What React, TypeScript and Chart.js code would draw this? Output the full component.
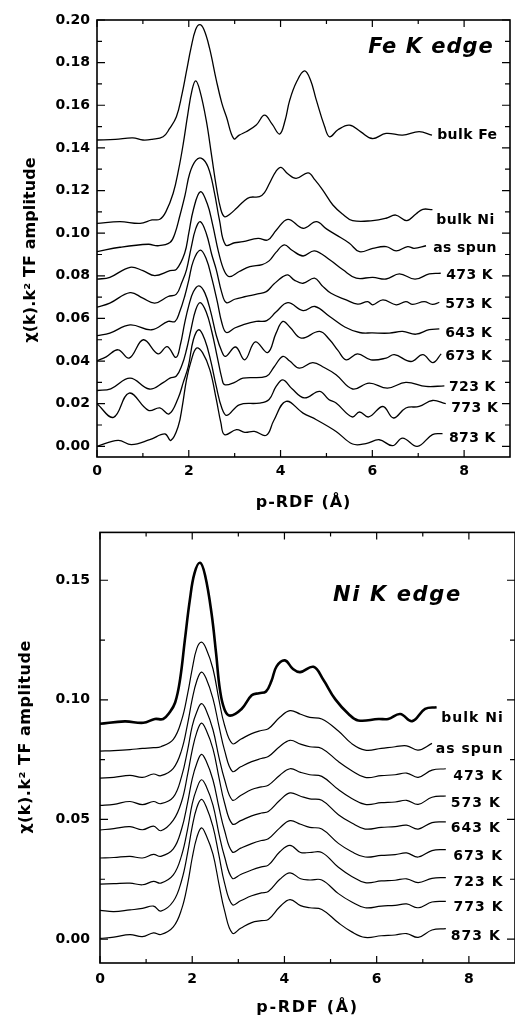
import React, { useEffect, useRef } from 'react';
import { Chart, registerables } from 'chart.js';

Chart.register(...registerables);

const FONT = "'DejaVu Sans', 'Liberation Sans', Arial, sans-serif";

// ---------------- Fe K edge (top panel) : [r (Å), amplitude] ----------------
const feBulkFe = [
  [0, 0.1437], [0.4, 0.144], [0.78, 0.1447], [1.0, 0.1437], [1.2, 0.144], [1.44, 0.1452], [1.58, 0.149],
  [1.73, 0.1546], [1.85, 0.165], [1.95, 0.176], [2.05, 0.187], [2.15, 0.1955], [2.24, 0.1978], [2.33, 0.1955],
  [2.45, 0.187], [2.6, 0.1718], [2.72, 0.161], [2.82, 0.1546], [2.98, 0.1443], [3.1, 0.146], [3.25, 0.1476],
  [3.47, 0.1507], [3.65, 0.1554], [3.82, 0.151], [3.98, 0.1465], [4.1, 0.153], [4.2, 0.1624], [4.35, 0.171],
  [4.52, 0.1761], [4.65, 0.172], [4.78, 0.1624], [4.96, 0.15], [5.07, 0.1452], [5.25, 0.1485], [5.5, 0.1507],
  [5.75, 0.1475], [6.0, 0.1444], [6.3, 0.1468], [6.66, 0.146], [7.02, 0.1476], [7.3, 0.146],
];
const feBulkNi = [
  [0, 0.1046], [0.5, 0.1054], [0.94, 0.1046], [1.2, 0.1062], [1.37, 0.1065], [1.5, 0.11], [1.66, 0.1187],
  [1.78, 0.13], [1.88, 0.142], [1.98, 0.156], [2.07, 0.167], [2.15, 0.1714], [2.24, 0.167], [2.38, 0.153],
  [2.5, 0.136], [2.6, 0.1218], [2.7, 0.111], [2.78, 0.1077], [2.9, 0.109], [3.04, 0.1117], [3.2, 0.115],
  [3.33, 0.1168], [3.54, 0.1171], [3.65, 0.119], [3.76, 0.1234], [3.9, 0.129], [4.01, 0.1309], [4.15, 0.128],
  [4.34, 0.1257], [4.6, 0.1283], [4.75, 0.125], [4.92, 0.1202], [5.14, 0.1132], [5.35, 0.109], [5.57, 0.1059],
  [6.01, 0.1059], [6.3, 0.107], [6.51, 0.1085], [6.75, 0.1059], [6.95, 0.109], [7.1, 0.1112], [7.31, 0.111],
];
const feAsSpun = [
  [0, 0.0913], [0.5, 0.0934], [1.12, 0.0948], [1.33, 0.0941], [1.59, 0.0956], [1.7, 0.1], [1.8, 0.1077],
  [1.92, 0.118], [2.02, 0.128], [2.15, 0.134], [2.28, 0.1351], [2.42, 0.131], [2.55, 0.12], [2.67, 0.106],
  [2.8, 0.0945], [3.0, 0.0955], [3.18, 0.096], [3.51, 0.0976], [3.72, 0.0968], [3.91, 0.1015], [4.16, 0.1065],
  [4.49, 0.1023], [4.78, 0.1054], [5.0, 0.102], [5.21, 0.0992], [5.5, 0.0953], [5.72, 0.0913], [6.01, 0.0929],
  [6.3, 0.0937], [6.52, 0.0917], [6.77, 0.0937], [6.91, 0.0929], [7.17, 0.0941],
];
const fe473 = [
  [0, 0.0784], [0.28, 0.0793], [0.72, 0.084], [1.0, 0.0824], [1.26, 0.0801], [1.59, 0.0824], [1.73, 0.083],
  [1.91, 0.0906], [2.0, 0.1], [2.1, 0.111], [2.25, 0.1194], [2.4, 0.114], [2.52, 0.104], [2.65, 0.091],
  [2.78, 0.082], [2.89, 0.0796], [3.1, 0.082], [3.33, 0.0843], [3.6, 0.0853], [3.75, 0.087], [3.9, 0.091],
  [4.08, 0.0945], [4.25, 0.092], [4.49, 0.0893], [4.74, 0.0917], [5.07, 0.0875], [5.36, 0.0828], [5.65, 0.0789],
  [6.01, 0.0793], [6.3, 0.0785], [6.59, 0.0809], [6.93, 0.0784], [7.24, 0.0809], [7.49, 0.0812],
];
const fe573 = [
  [0, 0.0653], [0.28, 0.0672], [0.72, 0.0721], [1.0, 0.0695], [1.26, 0.0672], [1.55, 0.0703], [1.73, 0.0714],
  [1.85, 0.077], [1.95, 0.0828], [2.05, 0.093], [2.15, 0.102], [2.25, 0.1054], [2.38, 0.1], [2.5, 0.09],
  [2.6, 0.0828], [2.72, 0.072], [2.82, 0.0674], [3.0, 0.069], [3.25, 0.0703], [3.5, 0.0715], [3.69, 0.0726],
  [3.85, 0.076], [4.05, 0.0796], [4.16, 0.0804], [4.3, 0.078], [4.49, 0.0765], [4.74, 0.0789], [4.9, 0.0755],
  [5.1, 0.0718], [5.43, 0.0687], [5.68, 0.0667], [5.9, 0.0679], [6.01, 0.0664], [6.23, 0.0687], [6.52, 0.0664],
  [6.73, 0.0679], [6.88, 0.0666], [7.13, 0.0679], [7.31, 0.0666], [7.46, 0.0675],
];
const fe643 = [
  [0, 0.0519], [0.28, 0.0531], [0.72, 0.057], [1.19, 0.0547], [1.55, 0.0586], [1.7, 0.0586], [1.8, 0.063],
  [1.91, 0.0703], [2.0, 0.078], [2.1, 0.087], [2.25, 0.092], [2.38, 0.088], [2.5, 0.079], [2.62, 0.068],
  [2.72, 0.058], [2.82, 0.0534], [3.0, 0.0555], [3.18, 0.057], [3.47, 0.0586], [3.7, 0.059], [3.9, 0.063],
  [4.16, 0.0674], [4.49, 0.0637], [4.75, 0.0656], [5.07, 0.0609], [5.4, 0.056], [5.72, 0.0534], [6.0, 0.0532],
  [6.37, 0.0531], [6.66, 0.0539], [6.95, 0.0526], [7.24, 0.0547], [7.46, 0.0551],
];
const fe673 = [
  [0, 0.0401], [0.2, 0.042], [0.46, 0.0453], [0.7, 0.0414], [1.01, 0.05], [1.33, 0.0434], [1.53, 0.0468],
  [1.72, 0.0417], [1.82, 0.048], [1.91, 0.0578], [2.0, 0.066], [2.1, 0.0725], [2.22, 0.0753], [2.35, 0.072],
  [2.48, 0.063], [2.6, 0.052], [2.72, 0.0445], [2.8, 0.0422], [3.02, 0.0466], [3.22, 0.0406], [3.45, 0.049],
  [3.72, 0.044], [3.9, 0.053], [4.05, 0.0586], [4.2, 0.056], [4.45, 0.0508], [4.85, 0.0539], [5.07, 0.05],
  [5.25, 0.045], [5.43, 0.0406], [5.68, 0.0434], [5.97, 0.0406], [6.3, 0.0414], [6.48, 0.043], [6.84, 0.0398],
  [7.1, 0.043], [7.32, 0.0393], [7.5, 0.0434],
];
const fe723 = [
  [0, 0.0262], [0.3, 0.027], [0.72, 0.032], [1.14, 0.0269], [1.45, 0.03], [1.59, 0.032], [1.73, 0.033],
  [1.85, 0.038], [1.95, 0.0453], [2.05, 0.055], [2.15, 0.064], [2.25, 0.0674], [2.38, 0.063], [2.5, 0.054],
  [2.62, 0.042], [2.72, 0.032], [2.78, 0.0289], [3.0, 0.03], [3.18, 0.032], [3.69, 0.0328], [3.85, 0.037],
  [4.05, 0.0422], [4.2, 0.04], [4.41, 0.0367], [4.7, 0.0393], [4.95, 0.037], [5.21, 0.0336], [5.57, 0.0269],
  [5.93, 0.0297], [6.33, 0.0273], [6.73, 0.03], [7.17, 0.0281], [7.57, 0.0284],
];
const fe773 = [
  [0, 0.02], [0.36, 0.0136], [0.7, 0.025], [1.12, 0.0169], [1.37, 0.018], [1.57, 0.0152], [1.77, 0.0227],
  [1.88, 0.03], [1.99, 0.0375], [2.1, 0.05], [2.22, 0.0547], [2.35, 0.05], [2.48, 0.04], [2.6, 0.028],
  [2.72, 0.018], [2.83, 0.0145], [3.1, 0.0195], [3.54, 0.0203], [3.75, 0.022], [3.9, 0.028], [4.05, 0.0312],
  [4.25, 0.027], [4.52, 0.0227], [4.85, 0.0258], [5.05, 0.022], [5.21, 0.0203], [5.56, 0.0138], [5.72, 0.0161],
  [5.92, 0.0138], [6.23, 0.0187], [6.46, 0.0133], [6.73, 0.018], [7.02, 0.0187], [7.31, 0.0215], [7.6, 0.02],
];
const fe873 = [
  [0, 0.0], [0.46, 0.0028], [0.75, 0.0008], [1.15, 0.0031], [1.48, 0.0058], [1.61, 0.0028], [1.77, 0.0094],
  [1.86, 0.019], [1.95, 0.0312], [2.05, 0.04], [2.17, 0.0461], [2.3, 0.044], [2.46, 0.0359], [2.6, 0.022],
  [2.7, 0.011], [2.78, 0.0055], [3.04, 0.0078], [3.22, 0.0066], [3.43, 0.007], [3.69, 0.0052], [3.85, 0.012],
  [4.12, 0.0211], [4.49, 0.0156], [4.78, 0.0125], [5.21, 0.007], [5.57, 0.0011], [5.86, 0.0013], [6.15, 0.0031],
  [6.44, 0.0003], [6.66, 0.0039], [6.98, 0.0], [7.31, 0.0055], [7.53, 0.006],
];
const feSeries = [feBulkFe, feBulkNi, feAsSpun, fe473, fe573, fe643, fe673, fe723, fe773, fe873];
const feLabels = [
  { text: 'bulk Fe', x: 8.07, y: 0.146 },
  { text: 'bulk Ni', x: 8.03, y: 0.1062 },
  { text: 'as spun', x: 8.02, y: 0.0931 },
  { text: '473 K', x: 8.12, y: 0.0804 },
  { text: '573 K', x: 8.1, y: 0.0664 },
  { text: '643 K', x: 8.1, y: 0.0528 },
  { text: '673 K', x: 8.1, y: 0.042 },
  { text: '723 K', x: 8.18, y: 0.0275 },
  { text: '773 K', x: 8.23, y: 0.0177 },
  { text: '873 K', x: 8.18, y: 0.0036 },
];
const feYTicks = [0, 0.02, 0.04, 0.06, 0.08, 0.1, 0.12, 0.14, 0.16, 0.18, 0.2];
const feYMinor = [0.01, 0.03, 0.05, 0.07, 0.09, 0.11, 0.13, 0.15, 0.17, 0.19];
const xTicks = [0, 2, 4, 6, 8];
const xMinor = [1, 3, 5, 7];

// ---------------- Ni K edge (bottom panel) ----------------
const niBulkNi = [
  [0, 0.09], [0.54, 0.091], [0.94, 0.0904], [1.19, 0.092], [1.37, 0.092], [1.5, 0.0945], [1.63, 0.0989],
  [1.74, 0.109], [1.84, 0.125], [1.95, 0.142], [2.05, 0.153], [2.17, 0.1573], [2.28, 0.152], [2.42, 0.136],
  [2.52, 0.119], [2.6, 0.1044], [2.7, 0.096], [2.82, 0.0934], [3.07, 0.0962], [3.29, 0.1019], [3.45, 0.1028],
  [3.6, 0.1035], [3.72, 0.108], [3.83, 0.114], [4.01, 0.1165], [4.18, 0.113], [4.34, 0.1116], [4.63, 0.1138],
  [4.84, 0.1085], [5.1, 0.1003], [5.39, 0.0941], [5.6, 0.0914], [6.04, 0.092], [6.25, 0.092], [6.51, 0.0941],
  [6.77, 0.0911], [7.05, 0.0962], [7.3, 0.0969],
];
const niX = [0, 0.3, 0.65, 0.92, 1.16, 1.32, 1.59, 1.77, 1.9, 2.0, 2.1, 2.2, 2.3, 2.45, 2.58, 2.7, 2.87, 3.05,
  3.29, 3.5, 3.65, 3.9, 4.12, 4.35, 4.55, 4.81, 5.17, 5.46, 5.75, 6.1, 6.4, 6.65, 6.9, 7.2, 7.5];
const niAsSpun = [0.0786, 0.0788, 0.0792, 0.0797, 0.08, 0.0804, 0.0835, 0.0915, 0.1025, 0.113, 0.1215, 0.1241,
  0.1215, 0.113, 0.1, 0.0895, 0.0817, 0.0835, 0.0859, 0.0872, 0.0879, 0.0927, 0.0955, 0.094, 0.0927, 0.092,
  0.087, 0.0817, 0.079, 0.0797, 0.0804, 0.0808, 0.079, 0.0818, null];
const ni473 = [0.0673, 0.0676, 0.0684, 0.0676, 0.069, 0.0683, 0.0714, 0.079, 0.09, 0.1003, 0.108, 0.1116,
  0.109, 0.1005, 0.089, 0.079, 0.0701, 0.072, 0.0742, 0.0755, 0.0763, 0.0805, 0.0831, 0.0815, 0.0804, 0.0797,
  0.0742, 0.0704, 0.0676, 0.0683, 0.0687, 0.0694, 0.0676, 0.0706, 0.0712];
const ni573 = [0.0559, 0.0563, 0.0575, 0.0562, 0.0575, 0.0566, 0.0593, 0.068, 0.079, 0.089, 0.095, 0.0984,
  0.0958, 0.0875, 0.076, 0.0668, 0.0581, 0.06, 0.0625, 0.0636, 0.0643, 0.0685, 0.0712, 0.0697, 0.0687, 0.068,
  0.0625, 0.0588, 0.0563, 0.057, 0.0573, 0.058, 0.0563, 0.0593, 0.0598];
const ni643 = [0.0456, 0.0462, 0.047, 0.0457, 0.0472, 0.0453, 0.0497, 0.0575, 0.0688, 0.079, 0.0865, 0.0903,
  0.0875, 0.0795, 0.0675, 0.057, 0.0481, 0.0495, 0.0515, 0.0527, 0.0533, 0.058, 0.0611, 0.0597, 0.0586, 0.058,
  0.052, 0.0485, 0.046, 0.0467, 0.047, 0.0476, 0.046, 0.0487, 0.049];
const ni673 = [0.0339, 0.0341, 0.0346, 0.0339, 0.0354, 0.0346, 0.0377, 0.046, 0.057, 0.067, 0.0735, 0.0772,
  0.0745, 0.0665, 0.055, 0.0455, 0.0364, 0.038, 0.0399, 0.0412, 0.0419, 0.0465, 0.0495, 0.048, 0.0467, 0.046,
  0.04, 0.0365, 0.0343, 0.035, 0.0353, 0.036, 0.0343, 0.037, 0.0374];
const ni723 = [0.023, 0.0232, 0.0234, 0.0227, 0.0241, 0.0234, 0.0268, 0.035, 0.046, 0.0565, 0.063, 0.0666,
  0.064, 0.056, 0.044, 0.0345, 0.0254, 0.027, 0.0289, 0.0302, 0.0309, 0.0365, 0.0392, 0.0362, 0.0362, 0.0362,
  0.03, 0.0262, 0.0236, 0.0243, 0.0246, 0.0252, 0.0236, 0.0254, 0.0257];
const ni773 = [0.012, 0.0115, 0.0122, 0.0128, 0.0138, 0.0117, 0.0158, 0.0245, 0.036, 0.047, 0.055, 0.0584,
  0.0555, 0.047, 0.035, 0.0235, 0.0144, 0.016, 0.0181, 0.0193, 0.0199, 0.025, 0.0277, 0.0252, 0.0247, 0.0247,
  0.019, 0.0155, 0.0131, 0.0138, 0.0141, 0.0147, 0.0131, 0.0155, 0.0158];
const ni873 = [0.0003, 0.0008, 0.0019, 0.001, 0.0026, 0.0019, 0.0051, 0.0125, 0.023, 0.034, 0.0425, 0.0465,
  0.0435, 0.0355, 0.023, 0.012, 0.0025, 0.0045, 0.0069, 0.0077, 0.0082, 0.0135, 0.0165, 0.014, 0.0131, 0.0124,
  0.0068, 0.003, 0.0007, 0.0014, 0.0017, 0.0023, 0.0007, 0.0038, 0.0044];
const niThinSeries = [niAsSpun, ni473, ni573, ni643, ni673, ni723, ni773, ni873];
const niLabels = [
  { text: 'bulk Ni', x: 8.08, y: 0.0923 },
  { text: 'as spun', x: 8.02, y: 0.0791 },
  { text: '473 K', x: 8.2, y: 0.068 },
  { text: '573 K', x: 8.15, y: 0.0569 },
  { text: '643 K', x: 8.15, y: 0.0462 },
  { text: '673 K', x: 8.2, y: 0.0346 },
  { text: '723 K', x: 8.21, y: 0.0239 },
  { text: '773 K', x: 8.21, y: 0.0132 },
  { text: '873 K', x: 8.15, y: 0.0012 },
];
const niYTicks = [0, 0.05, 0.1, 0.15];
const niYMinor = [0.025, 0.075, 0.125];

const Y_TITLE = 'χ(k).k² TF amplitude';
const X_TITLE = 'p-RDF (Å)';

function pairsToPoints(p: number[][]) {
  return p.map(([x, y]) => ({ x, y }));
}
function gridToPoints(xs: number[], ys: (number | null)[]) {
  return xs.map((x, i) => ({ x, y: ys[i] }));
}

function lineDataset(points: any[], width: number) {
  return {
    data: points,
    borderColor: '#000',
    borderWidth: width,
    pointRadius: 0,
    fill: false,
    tension: 0.4,
    spanGaps: false,
  };
}

function decorPlugin(cfg: any) {
  return {
    id: 'decor',
    afterDatasetsDraw(chart: any) {
      const { ctx, chartArea: a, scales } = chart;
      const xs = scales.x;
      const ys = scales.y;
      ctx.save();
      ctx.strokeStyle = '#000';
      ctx.lineWidth = 1.2;
      const xt = (vals: number[], len: number) => {
        vals.forEach((v) => {
          const px = xs.getPixelForValue(v);
          ctx.beginPath();
          ctx.moveTo(px, a.bottom);
          ctx.lineTo(px, a.bottom - len);
          ctx.moveTo(px, a.top);
          ctx.lineTo(px, a.top + len);
          ctx.stroke();
        });
      };
      const yt = (vals: number[], len: number) => {
        vals.forEach((v) => {
          const py = ys.getPixelForValue(v);
          ctx.beginPath();
          ctx.moveTo(a.left, py);
          ctx.lineTo(a.left + len, py);
          ctx.moveTo(a.right, py);
          ctx.lineTo(a.right - len, py);
          ctx.stroke();
        });
      };
      xt(xTicks, 7);
      xt(xMinor, 4);
      yt(cfg.yMajor, 8);
      yt(cfg.yMinor, 5);
      ctx.lineWidth = 1.6;
      ctx.strokeRect(a.left, a.top, a.right - a.left, a.bottom - a.top);

      ctx.fillStyle = '#000';
      ctx.font = `bold 14px ${FONT}`;
      ctx.textAlign = 'center';
      ctx.textBaseline = 'middle';
      (ctx as any).letterSpacing = cfg.labelSpacing;
      cfg.labels.forEach((l: any) => {
        ctx.fillText(l.text, xs.getPixelForValue(l.x), ys.getPixelForValue(l.y));
      });
      ctx.font = `italic bold 21px ${FONT}`;
      (ctx as any).letterSpacing = cfg.title.spacing;
      ctx.fillText(cfg.title.text, xs.getPixelForValue(cfg.title.x), ys.getPixelForValue(cfg.title.y));
      ctx.font = `bold 16px ${FONT}`;
      (ctx as any).letterSpacing = cfg.xTitleSpacing;
      ctx.fillText(X_TITLE, (a.left + a.right) / 2, a.bottom + cfg.xTitleDy);
      (ctx as any).letterSpacing = cfg.yTitleSpacing;
      ctx.textBaseline = 'alphabetic';
      ctx.translate(cfg.yTitleX, cfg.yTitleY);
      ctx.rotate(-Math.PI / 2);
      ctx.fillText(Y_TITLE, 0, 0);
      ctx.restore();
    },
  };
}

function baseOptions(o: any) {
  const tickFont = { family: FONT, size: 14, weight: 'bold' };
  return {
    responsive: false,
    animation: false,
    devicePixelRatio: 1,
    layout: { padding: { left: 0, right: o.padRight, top: o.padTop, bottom: 0 } },
    plugins: { legend: { display: false }, tooltip: { enabled: false } },
    scales: {
      x: {
        type: 'linear',
        min: 0,
        max: 9,
        grid: { display: false, drawTicks: false },
        border: { display: false },
        afterFit: (s: any) => { s.height = o.xHeight; },
        afterBuildTicks: (s: any) => { s.ticks = xTicks.map((v) => ({ value: v })); },
        ticks: {
          padding: o.xPad,
          font: tickFont,
          color: '#000',
          autoSkip: false,
          maxRotation: 0,
          callback: (v: any) => String(v),
        },
      },
      y: {
        type: 'linear',
        min: o.yMin,
        max: o.yMax,
        grid: { display: false, drawTicks: false },
        border: { display: false },
        afterFit: (s: any) => { s.width = o.yWidth; },
        afterBuildTicks: (s: any) => { s.ticks = o.yTicks.map((v: number) => ({ value: v })); },
        ticks: {
          padding: o.yPad,
          font: tickFont,
          color: '#000',
          autoSkip: false,
          callback: (v: any) => Number(v).toFixed(2),
        },
      },
    },
  };
}

function buildFe() {
  return {
    type: 'line',
    data: { datasets: feSeries.map((s) => lineDataset(pairsToPoints(s), 1.3)) },
    options: baseOptions({
      padRight: 5, padTop: 20, xHeight: 57, yWidth: 97, xPad: 6, yPad: 7,
      yMin: -0.005, yMax: 0.2, yTicks: feYTicks,
    }),
    plugins: [decorPlugin({
      yMajor: feYTicks, yMinor: feYMinor, labels: feLabels, labelSpacing: '0.4px',
      title: { text: 'Fe K edge', x: 7.28, y: 0.1872, spacing: '1px' },
      xTitleDy: 46, xTitleSpacing: '0.9px',
      yTitleSpacing: '0.1px', yTitleX: 35, yTitleY: 250,
    })],
  };
}

function buildNi() {
  const datasets = [lineDataset(pairsToPoints(niBulkNi), 2.6)].concat(
    niThinSeries.map((s) => lineDataset(gridToPoints(niX, s), 1.2))
  );
  return {
    type: 'line',
    data: { datasets },
    options: baseOptions({
      padRight: 0, padTop: 14, xHeight: 54, yWidth: 100, xPad: 8, yPad: 10,
      yMin: -0.01, yMax: 0.17, yTicks: niYTicks,
    }),
    plugins: [decorPlugin({
      yMajor: niYTicks, yMinor: niYMinor, labels: niLabels, labelSpacing: '1px',
      title: { text: 'Ni K edge', x: 6.45, y: 0.1434, spacing: '1.6px' },
      xTitleDy: 45, xTitleSpacing: '1.7px',
      yTitleSpacing: '0.5px', yTitleX: 30, yTitleY: 223,
    })],
  };
}

function ChartCanvas({ build, width, height }: { build: () => any; width: number; height: number }) {
  const ref = useRef<HTMLCanvasElement>(null);
  useEffect(() => {
    const chart = new Chart(ref.current as HTMLCanvasElement, build());
    return () => chart.destroy();
  }, []);
  return <canvas ref={ref} width={width} height={height} style={{ display: 'block', width, height }} />;
}

export default function App() {
  return (
    <div style={{ position: 'absolute', left: 0, top: 0, width: 515, height: 1017, background: '#fff' }}>
      <ChartCanvas build={buildFe} width={515} height={514} />
      <ChartCanvas build={buildNi} width={515} height={503} />
    </div>
  );
}
